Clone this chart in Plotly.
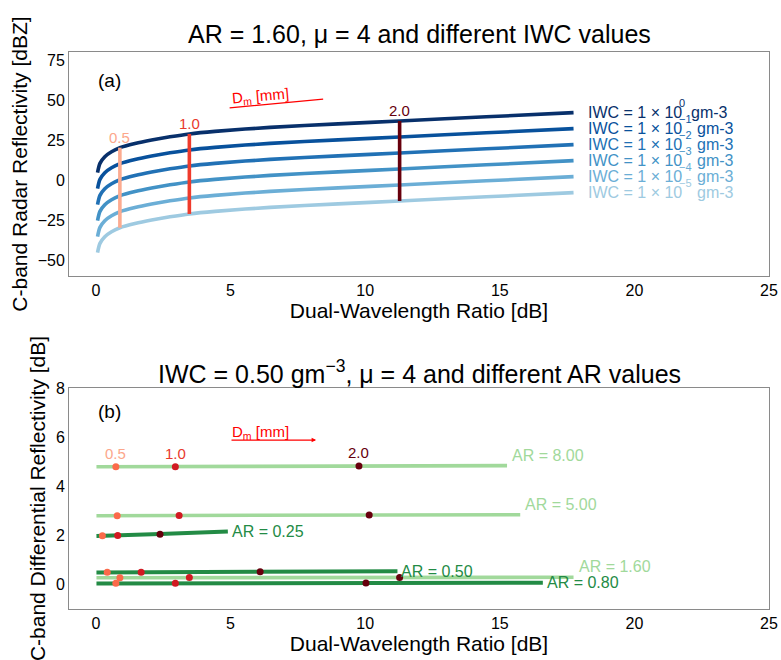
"""
 Z and ZDR against DWR, for different IWC and AR values
"""

import plotly.graph_objects as go

# data

# (a) C-band reflectivity [dBZ] along DWR [dB], one curve per IWC decade
dwr_a = [0.06, 0.15, 0.33, 0.58, 0.89, 1.45, 2.07, 2.75, 3.47, 4.42, 6.47, 9.0, 11.28, 14.5, 17.74]
z_iwc_0 = [4.6, 10.4, 14.6, 17.7, 20.2, 22.8, 25.0, 27.0, 28.8, 30.4, 32.9, 35.1, 36.9, 39.5, 42.1]
z_iwc_1 = [-5.4, 0.4, 4.6, 7.7, 10.2, 12.8, 15.0, 17.0, 18.8, 20.4, 22.9, 25.1, 26.9, 29.5, 32.1]
z_iwc_2 = [-15.4, -9.6, -5.4, -2.3, 0.2, 2.8, 5.0, 7.0, 8.8, 10.4, 12.9, 15.1, 16.9, 19.5, 22.1]
z_iwc_3 = [-25.4, -19.6, -15.4, -12.3, -9.8, -7.2, -5.0, -3.0, -1.2, 0.4, 2.9, 5.1, 6.9, 9.5, 12.1]
z_iwc_4 = [-35.4, -29.6, -25.4, -22.3, -19.8, -17.2, -15.0, -13.0, -11.2, -9.6, -7.1, -4.9, -3.1, -0.5, 2.1]
z_iwc_5 = [-45.4, -39.6, -35.4, -32.3, -29.8, -27.2, -25.0, -23.0, -21.2, -19.6, -17.1, -14.9, -13.1, -10.5, -7.9]
iwc_exp = ["0", "\u22121", "\u22122", "\u22123", "\u22124", "\u22125"]

# Dm values and the DWR where they sit (AR = 1.60)
dm_labels = ["0.5", "1.0", "2.0"]
dm_dwr_a = [0.89, 3.47, 11.28]

# (b) C-band ZDR [dB] for different AR values (line ends + Dm points)
ar_labels = ["8.00", "5.00", "0.25", "0.50", "1.60", "0.80"]
ar_line_x = [[0.02, 15.27], [0.02, 15.76], [0.02, 0.81, 2.38, 4.9],
             [0.02, 11.2], [0.02, 17.74], [0.02, 16.6]]
ar_line_y = [[4.79, 4.84], [2.80, 2.84], [1.97, 1.99, 2.05, 2.16],
             [0.49, 0.54], [0.27, 0.29], [0.04, 0.07]]
ar_dm_x = [[0.74, 2.95, 9.77], [0.79, 3.09, 10.15], [0.24, 0.81, 2.38],
           [0.42, 1.68, 6.10], [0.89, 3.47, 11.28], [0.74, 2.95, 10.03]]
ar_dm_y = [[4.79, 4.79, 4.82], [2.80, 2.81, 2.83], [1.98, 1.99, 2.04],
           [0.50, 0.50, 0.52], [0.27, 0.28, 0.28], [0.05, 0.05, 0.06]]

xticks = [0, 5, 10, 15, 20, 25]
yticks_a = [-50, -25, 0, 25, 50, 75]
yticks_b = [0, 2, 4, 6, 8]

# styles
FONT = "Liberation Sans, Arial, sans-serif"
blues = ["#08306b", "#08519c", "#2171b5", "#4292c6", "#6baed6", "#9ecae1"]
dm_line_col = ["#fcab90", "#ef3b2c", "#67000d"]
dm_text_col = ["#fca78b", "#e8392c", "#67000d"]
dm_dot_col = ["#fb6a4a", "#d11a22", "#67000d"]
light_g = "#a1d99b"
dark_g = "#238b45"
ar_col = [light_g, light_g, dark_g, dark_g, light_g, dark_g]


def main():
    fig = go.Figure()
    annots = []

    # ---- panel (a)
    curves = [z_iwc_0, z_iwc_1, z_iwc_2, z_iwc_3, z_iwc_4, z_iwc_5]
    for z, col, e in zip(curves, blues, iwc_exp):
        fig.add_trace(go.Scatter(x=dwr_a, y=z, mode="lines", line=dict(color=col, width=3.6, shape="spline", smoothing=0.8),
                                 xaxis="x", yaxis="y", showlegend=False, hoverinfo="skip"))
        yend = z[-1]
        annots.append(dict(x=18.2, y=yend, xref="x", yref="y", text="IWC = 1 \u00d7 10", showarrow=False,
                           xanchor="left", yanchor="middle", font=dict(size=16, color=col)))
        annots.append(dict(x=21.57, y=yend, xref="x", yref="y", text=e, showarrow=False, yshift=10,
                           xanchor="left", yanchor="middle", font=dict(size=11, color=col)))
        annots.append(dict(x=21.57, y=yend, xref="x", yref="y", text="gm-3", showarrow=False,
                           xshift=6 + 6.3 * len(e), xanchor="left", yanchor="middle", font=dict(size=16, color=col)))

    for lab, d, lc, tc in zip(dm_labels, dm_dwr_a, dm_line_col, dm_text_col):
        i = dwr_a.index(d)
        fig.add_trace(go.Scatter(x=[d, d], y=[z_iwc_5[i], z_iwc_0[i]], mode="lines", line=dict(color=lc, width=3.6),
                                 xaxis="x", yaxis="y", showlegend=False, hoverinfo="skip"))
        annots.append(dict(x=d, y=z_iwc_0[i], xref="x", yref="y", text=lab, showarrow=False,
                           xanchor="center", yanchor="bottom", font=dict(size=15, color=tc)))

    # Dm arrow (a)
    annots.append(dict(x=8.44, y=50.6, ax=4.91, ay=45.0, xref="x", yref="y", axref="x", ayref="y", text="",
                       showarrow=True, arrowhead=0, arrowwidth=1.3, arrowcolor="red"))
    annots.append(dict(x=6.1, y=52.5, xref="x", yref="y", text="D<sub>m</sub> [mm]", showarrow=False,
                       textangle=-5, font=dict(size=15, color="red")))
    annots.append(dict(x=0, y=62.5, xref="x", yref="y", text="(a)", showarrow=False, xanchor="left",
                       font=dict(size=19, color="black")))

    # ---- panel (b)
    for lab, lx, ly, px, py, col in zip(ar_labels, ar_line_x, ar_line_y, ar_dm_x, ar_dm_y, ar_col):
        fig.add_trace(go.Scatter(x=lx, y=ly, mode="lines", line=dict(color=col, width=4 if col == dark_g else 3.6),
                                 xaxis="x2", yaxis="y2", showlegend=False, hoverinfo="skip"))
        if col == light_g:
            annots.append(dict(x=lx[-1], y=ly[-1], xref="x2", yref="y2", text="AR = " + lab, showarrow=False,
                               xshift=3, xanchor="left", yanchor="bottom", font=dict(size=16, color=col)))
        else:
            annots.append(dict(x=lx[-1], y=ly[-1], xref="x2", yref="y2", text="AR = " + lab, showarrow=False,
                               xshift=2, xanchor="left", yanchor="middle", font=dict(size=16, color=col)))
    for px, py in zip(ar_dm_x, ar_dm_y):
        fig.add_trace(go.Scatter(x=px, y=py, mode="markers", marker=dict(color=dm_dot_col, size=7),
                                 xaxis="x2", yaxis="y2", showlegend=False, hoverinfo="skip"))

    # Dm labels above the top (AR = 8.00) points
    for lab, x, y, tc in zip(dm_labels, ar_dm_x[0], ar_dm_y[0], dm_text_col):
        annots.append(dict(x=x, y=y, xref="x2", yref="y2", text=lab, showarrow=False, yshift=3,
                           xanchor="center", yanchor="bottom", font=dict(size=15, color=tc)))

    annots.append(dict(x=8.18, y=5.88, ax=4.98, ay=5.88, xref="x2", yref="y2", axref="x2", ayref="y2", text="",
                       showarrow=True, arrowhead=2, arrowsize=0.7, arrowwidth=1.3, arrowcolor="red"))
    annots.append(dict(x=6.1, y=6.2, xref="x2", yref="y2", text="D<sub>m</sub> [mm]", showarrow=False,
                       font=dict(size=15, color="red")))
    annots.append(dict(x=0, y=7.06, xref="x2", yref="y2", text="(b)", showarrow=False, xanchor="left",
                       font=dict(size=19, color="black")))

    # titles
    annots.append(dict(x=0.5, y=1.033, xref="paper", yref="paper", text="AR = 1.60, \u03bc = 4 and different IWC values",
                       showarrow=False, xanchor="center", yanchor="middle", font=dict(size=25, color="black")))
    annots.append(dict(x=0.5, y=0.425, xref="paper", yref="paper",
                       text="IWC = 0.50 gm<sup>\u22123</sup>, \u03bc = 4 and different AR values",
                       showarrow=False, xanchor="center", yanchor="middle", font=dict(size=25, color="black")))

    ax_style = dict(showline=True, mirror=True, linecolor="#8a8a8a", linewidth=1, showgrid=False, zeroline=False,
                    ticks="", tickfont=dict(size=16, color="black"), automargin=False)

    fig.update_layout(
        width=781, height=660,
        margin=dict(l=69, r=12, t=52, b=51),
        paper_bgcolor="white", plot_bgcolor="white",
        font=dict(family=FONT, color="black"),
        showlegend=False,
        annotations=annots,
        xaxis=dict(ax_style, domain=[0, 1], anchor="y", range=[-1, 25], tickvals=xticks,
                   title=dict(text="Dual-Wavelength Ratio [dB]", font=dict(size=21), standoff=4)),
        yaxis=dict(ax_style, domain=[0.5978, 1], anchor="x", range=[-60, 80], tickvals=yticks_a,
                   title=dict(text="C-band Radar Reflectivity [dBZ]", font=dict(size=21), standoff=4)),
        xaxis2=dict(ax_style, domain=[0, 1], anchor="y2", range=[-1, 25], tickvals=xticks,
                    title=dict(text="Dual-Wavelength Ratio [dB]", font=dict(size=21), standoff=4)),
        yaxis2=dict(ax_style, domain=[0, 0.3968], anchor="x2", range=[-1, 8], tickvals=yticks_b,
                    title=dict(text="C-band Differential Reflectivity [dB]", font=dict(size=21), standoff=4)),
    )

    # no page margin round the figure, no toolbar
    fig.write_html("out.html", config={"displayModeBar": False},
                   post_script="document.body.style.margin = '0';")


if __name__ == "__main__":
    main()
